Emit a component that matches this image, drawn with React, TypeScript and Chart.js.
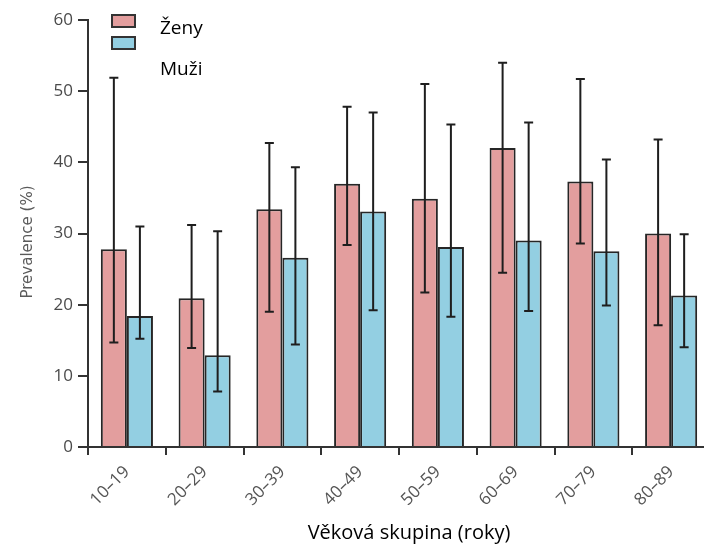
import React, { useEffect, useRef } from 'react';
import { Chart, registerables } from 'chart.js';

Chart.register(...registerables);

const categories = ['10–19', '20–29', '30–39', '40–49', '50–59', '60–69', '70–79', '80–89'];
const women = [27.8, 20.9, 33.4, 37.0, 34.9, 42.0, 37.3, 30.0];
const womenLow = [14.7, 13.9, 19.0, 28.4, 21.7, 24.5, 28.6, 17.1];
const womenHigh = [51.9, 31.2, 42.7, 47.8, 51.0, 54.0, 51.7, 43.2];
const men = [18.4, 12.9, 26.6, 33.1, 28.1, 29.0, 27.5, 21.3];
const menLow = [15.2, 7.8, 14.4, 19.2, 18.3, 19.1, 19.9, 14.0];
const menHigh = [31.0, 30.3, 39.3, 47.0, 45.3, 45.6, 40.4, 29.9];
const yTicks = [0, 10, 20, 30, 40, 50, 60];

const seriesNames = ['Ženy', 'Muži'];
const xTitle = 'Věková skupina (roky)';
const yTitle = 'Prevalence (%)';

const PINK = '#e39e9e';
const BLUE = '#93cfe2';
const EDGE = '#262626';

export default function App() {
  const ref = useRef<HTMLCanvasElement>(null);

  useEffect(() => {
    if (!ref.current) return;
    const ranges = [
      [womenLow, womenHigh],
      [menLow, menHigh],
    ];

    const errorBars = {
      id: 'errorBars',
      afterDatasetsDraw(chart: any) {
        const ctx = chart.ctx;
        const ys = chart.scales.y;
        chart.data.datasets.forEach((_ds: any, i: number) => {
          const meta = chart.getDatasetMeta(i);
          meta.data.forEach((bar: any, j: number) => {
            const x = bar.x;
            const yl = ys.getPixelForValue(ranges[i][0][j]);
            const yh = ys.getPixelForValue(ranges[i][1][j]);
            ctx.save();
            ctx.strokeStyle = '#1e1e1e';
            ctx.lineWidth = 2;
            ctx.beginPath();
            ctx.moveTo(x, yl);
            ctx.lineTo(x, yh);
            ctx.moveTo(x - 4.5, yl);
            ctx.lineTo(x + 4.5, yl);
            ctx.moveTo(x - 4.5, yh);
            ctx.lineTo(x + 4.5, yh);
            ctx.stroke();
            ctx.restore();
          });
        });
      },
    };

    const overlay = {
      id: 'overlay',
      afterDraw(chart: any) {
        const ctx = chart.ctx;
        ctx.save();
        // legend
        const boxes = [
          { y: 15, color: PINK },
          { y: 37, color: BLUE },
        ];
        boxes.forEach((b) => {
          ctx.fillStyle = b.color;
          ctx.strokeStyle = '#333';
          ctx.lineWidth = 2;
          ctx.beginPath();
          ctx.rect(112, b.y, 23, 12);
          ctx.fill();
          ctx.stroke();
        });
        ctx.fillStyle = '#000';
        ctx.font = '19px "Open Sans"';
        ctx.textAlign = 'left';
        ctx.textBaseline = 'alphabetic';
        ctx.fillText(seriesNames[0], 160, 34);
        ctx.fillText(seriesNames[1], 160, 75);
        // x title
        ctx.font = '20px "Open Sans"';
        ctx.textAlign = 'center';
        ctx.fillText(xTitle, 409, 539);
        // y title
        ctx.translate(28, 242);
        ctx.rotate(-Math.PI / 2);
        ctx.font = '15px "DejaVu Sans"';
        ctx.fillStyle = '#5a5a5a';
        ctx.textBaseline = 'middle';
        ctx.fillText(yTitle, 0, 0);
        ctx.restore();
      },
    };

    const chart = new Chart(ref.current, {
      type: 'bar',
      data: {
        labels: categories,
        datasets: [
          {
            label: seriesNames[0],
            data: women,
            backgroundColor: PINK,
            borderColor: EDGE,
            borderWidth: 2,
            categoryPercentage: 0.67,
            barPercentage: 1.0,
          },
          {
            label: seriesNames[1],
            data: men,
            backgroundColor: BLUE,
            borderColor: EDGE,
            borderWidth: 2,
            categoryPercentage: 0.67,
            barPercentage: 1.0,
          },
        ],
      },
      options: {
        responsive: false,
        animation: false,
        layout: { padding: { left: 0, top: 20, right: 10, bottom: 0 } },
        plugins: {
          legend: { display: false },
          tooltip: { enabled: false },
        },
        scales: {
          x: {
            grid: {
              display: true,
              drawOnChartArea: false,
              drawTicks: true,
              tickLength: 8,
              offset: true,
              color: '#333',
              lineWidth: 2,
            },
            border: { display: true, color: '#333', width: 2 },
            ticks: {
              maxRotation: 45,
              minRotation: 45,
              font: { family: 'Open Sans', size: 17 },
              color: '#555',
              padding: 7,
            },
            afterFit: (s: any) => {
              s.height = 98;
            },
          },
          y: {
            min: 0,
            max: 60,
            afterBuildTicks: (s: any) => {
              s.ticks = yTicks.map((v) => ({ value: v }));
            },
            ticks: {
              font: { family: 'Open Sans', size: 17 },
              color: '#4a4a4a',
              padding: 5,
            },
            grid: {
              display: true,
              drawOnChartArea: false,
              drawTicks: true,
              tickLength: 10,
              color: '#333',
              lineWidth: 2,
            },
            border: { display: true, color: '#333', width: 2 },
            afterFit: (s: any) => {
              s.width = 88;
            },
          },
        },
      },
      plugins: [errorBars, overlay],
    });
    return () => chart.destroy();
  }, []);

  return (
    <div
      style={{
        position: 'absolute',
        left: 0,
        top: 0,
        width: 704,
        height: 545,
        overflow: 'hidden',
        background: '#fff',
      }}
    >
      <canvas ref={ref} width={720} height={545} style={{ width: 720, height: 545, display: 'block' }} />
    </div>
  );
}
